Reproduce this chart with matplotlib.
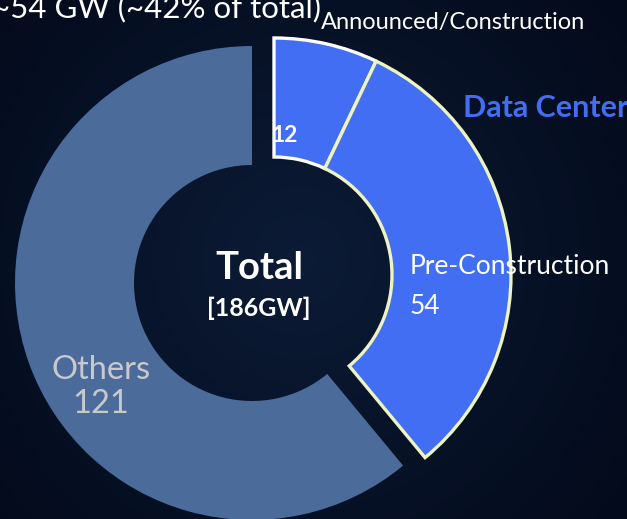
import numpy as np
import matplotlib.pyplot as plt

# ---- data ----
title = "~54 GW (~42% of total)"
group_name = "Data Center"
others_label = "Others"
others_value = 121
dc_labels = ["Announced/Construction", "Pre-Construction"]
dc_values = [12, 54]
total_text = "[186GW]"
# share of the ring each group takes in the picture (not exactly value-proportional)
group_share = [0.61, 0.39]

W, H = 627, 519
BLUE = "#416ef2"
SLATE = "#4b6b9b"

plt.rcParams['font.family'] = ['Lato', 'DejaVu Sans']

fig = plt.figure(figsize=(W / 100, H / 100), dpi=100)
ax = fig.add_axes([0, 0, 1, 1])

# dark night background with a soft glow in the middle
yy, xx = np.mgrid[0:H, 0:W]
d = np.hypot(xx - 300, yy - 260) / 420
d = np.clip(d, 0, 1)[..., None]
inner = np.array([12, 27, 54]) / 255
outer = np.array([3, 10, 26]) / 255
bg = inner * (1 - d) + outer * d
ax.imshow(bg, extent=(0, W, 0, H), origin="upper", zorder=0)

# pixel positions (y measured from the bottom)
others_center = (252, H - 283)
dc_center = (274, H - 275)
R, RING = 237, 119

ax.pie([group_share[0]], normalize=False, startangle=90, counterclock=True,
       radius=R, center=others_center, colors=[SLATE],
       wedgeprops=dict(width=RING, linewidth=0), frame=True)

dc_frac = np.array(dc_values) / sum(dc_values) * group_share[1]
wedges, _ = ax.pie(dc_frac, normalize=False, startangle=90, counterclock=False,
                   radius=R, center=dc_center, colors=[BLUE, BLUE],
                   wedgeprops=dict(width=RING, linewidth=2.4), frame=True)
wedges[0].set_edgecolor("white")
wedges[1].set_edgecolor("#eef3c2")

ax.set_xlim(0, W)
ax.set_ylim(0, H)
ax.set_aspect("equal")
ax.axis("off")

# ---- texts ----
ax.text(-8, H - 17, title, color="white", fontsize=22.5, ha="left", va="baseline")
ax.text(321, H - 23, dc_labels[0], color="white", fontsize=17, ha="left", va="center")
ax.text(463, H - 108, group_name, color=BLUE, fontsize=22, fontweight="bold",
        ha="left", va="center")
ax.text(272, H - 136, str(dc_values[0]), color="white", fontsize=16.5,
        fontweight="bold", ha="left", va="center")
ax.text(259, H - 268, "Total", color="white", fontsize=27.5, fontweight="bold",
        ha="center", va="center")
ax.text(259, H - 308, total_text, color="white", fontsize=18, fontweight="bold",
        ha="center", va="center")
ax.text(410, H - 266, dc_labels[1], color="white", fontsize=19, ha="left", va="center")
ax.text(410, H - 306, str(dc_values[1]), color="white", fontsize=19, ha="left", va="center")
ax.text(101, H - 370, others_label, color="#c8c9cc", fontsize=23.5, ha="center", va="center")
ax.text(101, H - 404, str(others_value), color="#c8c9cc", fontsize=23.5, ha="center", va="center")

fig.savefig("out.png", dpi=100)
